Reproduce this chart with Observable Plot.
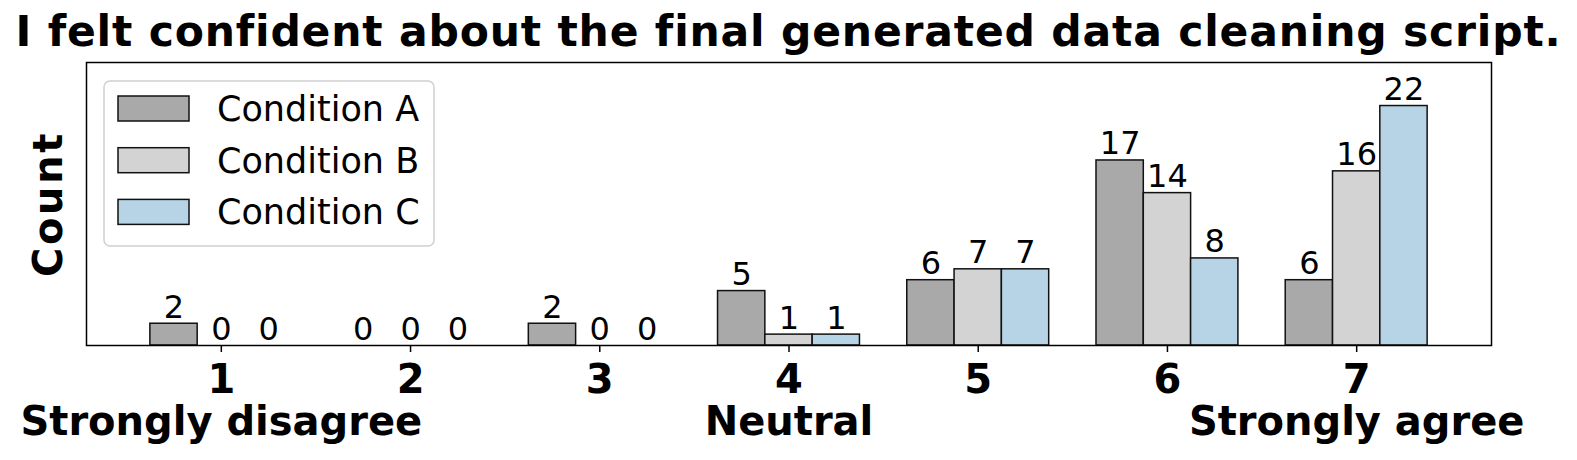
<!DOCTYPE html>
<html>
<head>
<meta charset="utf-8">
<script src="https://cdn.jsdelivr.net/npm/d3@7"></script>
<script src="https://cdn.jsdelivr.net/npm/@observablehq/plot@0.6"></script>
<style>
  html, body { margin: 0; padding: 0; background: #fff; }
  #wrap { position: relative; width: 1577px; height: 460px; font-family: "DejaVu Sans", sans-serif; }
  #title { position: absolute; left: 0; top: 11px; width: 1577px; text-align: center; font-size: 42.5px; line-height: 42px; letter-spacing: 0.8px; font-weight: bold; color: #000; white-space: nowrap; }
  #chart { position: absolute; left: 0; top: 0; }
  #legend { position: absolute; left: 103px; top: 80px; }
</style>
</head>
<body>
<div id="wrap">
  <div id="chart"></div>
  <div id="title"></div>
  <div id="legend"></div>
</div>
<script>
const title = "I felt confident about the final generated data cleaning script.";
const categories = [1, 2, 3, 4, 5, 6, 7];
const tickLabels = ["1\nStrongly disagree", "2", "3", "4\nNeutral", "5", "6", "7\nStrongly agree"];
const seriesNames = ["Condition A", "Condition B", "Condition C"];
const seriesColors = ["#a9a9a9", "#d3d3d3", "#b6d4e6"];
const conditionA = [2, 0, 2, 5, 6, 17, 6];
const conditionB = [0, 0, 0, 1, 7, 14, 16];
const conditionC = [0, 0, 0, 1, 7, 8, 22];
const yLabel = "Count";

const seriesValues = [conditionA, conditionB, conditionC];
const barWidth = 0.25;
const offsets = [-barWidth, 0, barWidth];
const rows = [];
seriesValues.forEach((vals, s) => {
  vals.forEach((v, i) => {
    const c = categories[i] + offsets[s];
    rows.push({series: seriesNames[s], x1: c - barWidth / 2, x2: c + barWidth / 2, xc: c, value: v});
  });
});

document.getElementById("title").textContent = title;

const lo = categories[0] - 1.5 * barWidth, hi = categories[categories.length - 1] + 1.5 * barWidth;
const pad = (hi - lo) * 0.05;

const chart = Plot.plot({
  width: 1577,
  height: 460,
  marginTop: 62,
  marginBottom: 115,
  marginLeft: 86,
  marginRight: 86,
  style: {fontFamily: "DejaVu Sans, sans-serif", color: "#000", background: "#fff"},
  x: {type: "linear", domain: [lo - pad, hi + pad]},
  y: {domain: [0, 26], axis: null},
  color: {domain: seriesNames, range: seriesColors},
  marks: [
    Plot.rectY(rows, {x1: "x1", x2: "x2", y1: 0, y2: "value", fill: "series", stroke: "#111", strokeWidth: 1.5}),
    Plot.text(rows, {x: "xc", y: "value", text: d => String(d.value), lineAnchor: "bottom", dy: -6, fontSize: 32, fill: "#000"}),
    Plot.frame({stroke: "#000", strokeWidth: 1.5}),
    Plot.axisX({
      ticks: categories,
      tickSize: 7,
      tickPadding: 11,
      strokeWidth: 1.5,
      tickFormat: d => tickLabels[categories.indexOf(d)],
      fontSize: 40,
      fontWeight: "bold",
      lineHeight: 1.05,
      label: null
    }),
    Plot.text([yLabel], {frameAnchor: "left", text: d => d, rotate: -90, dx: -37, fontSize: 40, fontWeight: "bold", textAnchor: "middle", lineAnchor: "middle", fill: "#000", style: "letter-spacing: 2.6px"})
  ]
});
document.getElementById("chart").appendChild(chart);
// letter spacing for the rotated y label
d3.select(chart).selectAll("text").filter(function() { return this.textContent === yLabel; })
  .style("letter-spacing", "2.6px");

// Legend
const lg = d3.select("#legend").append("svg").attr("width", 332).attr("height", 167)
  .style("font-family", "DejaVu Sans, sans-serif");
lg.append("rect").attr("x", 1).attr("y", 1).attr("width", 330).attr("height", 165).attr("rx", 6)
  .attr("fill", "rgba(255,255,255,0.8)").attr("stroke", "#d0d0d0").attr("stroke-width", 1.5);
seriesNames.forEach((name, i) => {
  const y0 = 16 + i * 51.7;
  lg.append("rect").attr("x", 15).attr("y", y0).attr("width", 71).attr("height", 25)
    .attr("fill", seriesColors[i]).attr("stroke", "#111").attr("stroke-width", 1.5);
  lg.append("text").attr("x", 114).attr("y", y0 + 25).attr("font-size", 35).attr("fill", "#000").text(name);
});
</script>
</body>
</html>
